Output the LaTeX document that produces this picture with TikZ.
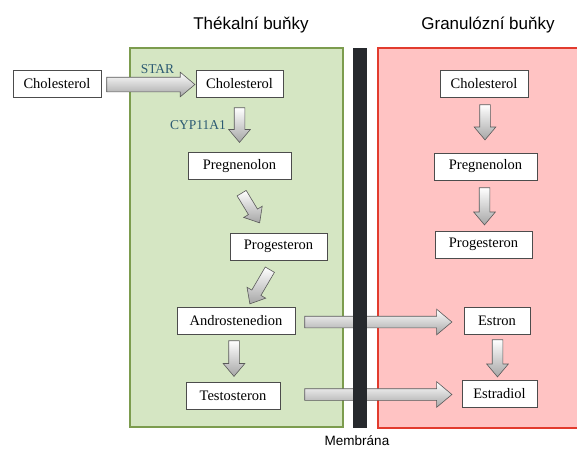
\documentclass[tikz,border=0pt]{standalone}
\usepackage{fontspec}
\setmainfont{Liberation Serif}
\setsansfont{Liberation Sans}
\usetikzlibrary{shapes.arrows, calc}

\definecolor{thekafill}{HTML}{D5E6C3}
\definecolor{thekadraw}{HTML}{7C9C4E}
\definecolor{granfill}{HTML}{FFC3C3}
\definecolor{grandraw}{HTML}{E23B2E}
\definecolor{membcol}{HTML}{26292D}
\definecolor{enzcol}{HTML}{2D5B73}

% thick shaded arrow from one point to another
\newcommand{\blockarrow}[3][]{%
  \path let \p1=#2, \p2=#3,
    \n1={atan2(\y2-\y1,\x2-\x1)}, \n2={veclen(\x2-\x1,\y2-\y1)} in
    node[fatarrow, #1, minimum height=\n2, rotate=\n1, anchor=tail] at (\p1) {};}

\begin{document}
\begin{tikzpicture}[
    x=1pt, y=-1pt,
    mol/.style={
        rectangle, draw=black!70, fill=white, line width=0.8pt,
        minimum height=27pt, inner sep=0pt,
        font=\fontsize{14.5}{16}\selectfont
    },
    title/.style={font=\sffamily\fontsize{17}{20}\selectfont},
    enzyme/.style={text=enzcol, font=\fontsize{13.5}{16}\selectfont},
    fatarrow/.style={
        single arrow, draw=black!65, line width=0.6pt,
        top color=white, bottom color=black!35,
        inner xsep=0pt, inner ysep=5pt,
        single arrow head extend=5.5pt, single arrow tip angle=80
    },
    widearrow/.style={inner ysep=5.5pt, single arrow head extend=7pt},
]
\useasboundingbox (0,0) rectangle (577,450);

% Bunky
\fill[thekafill] (130,48) rectangle (343,427);
\draw[thekadraw, line width=1.5pt] (130,48) rectangle (343,427);
\fill[granfill] (378,48) rectangle (577,428);
\draw[grandraw, line width=2pt] (577,48) -- (378,48) -- (378,428) -- (577,428);

\node[title] (titleT) at (251,25) {Thékalní buňky};
\node[title] (titleG) at (488,25) {Granulózní buňky};

% Molekuly - thekalni
\node[mol, minimum width=88pt]  (cholOut) at (57,83.5)    {Cholesterol};
\node[mol, minimum width=87pt]  (cholT)   at (239.5,83.5) {Cholesterol};
\node[mol, minimum width=103pt] (pregT)   at (239.5,166)  {Pregnenolon};
\node[mol, minimum width=97pt]  (progT)   at (278.5,246.5){Progesteron};
\node[mol, minimum width=118pt] (androT)  at (236,320.5)  {Androstenedion};
\node[mol, minimum width=94pt]  (testT)   at (233,396)    {Testosteron};

% Molekuly - granulozni
\node[mol, minimum width=88pt]  (cholG)     at (484,83.5)  {Cholesterol};
\node[mol, minimum width=103pt] (pregG)     at (485.5,166.5){Pregnenolon};
\node[mol, minimum width=97pt]  (progG)     at (483.5,244.5){Progesteron};
\node[mol, minimum width=66pt]  (estron)    at (497,320.5) {Estron};
\node[mol, minimum width=75pt]  (estradiol) at (499.5,393.5){Estradiol};

% Enzymy
\node[enzyme] (star) at (157.5,69) {STAR};
\node[enzyme] (cyp)  at (198,125)  {CYP11A1};

% Sipky - thekalni
\blockarrow[inner ysep=7pt, single arrow head extend=5pt]
    {($(cholOut.east)+(5,1)$)}{($(cholT.west)+(-1,1)$)}
\blockarrow{($(cholT.south)+(0,10)$)}{($(cholT.south |- pregT.north)+(0,-10)$)}
\blockarrow{($(pregT.south)+(2,13)$)}{($(progT.north)+(-19,-10)$)}
\blockarrow{($(progT.south)+(-8.5,9)$)}{($(androT.north)+(14,-3)$)}
\blockarrow{($(androT.south)+(-2,6)$)}{($(androT.south |- testT.north)+(-2,-6)$)}

% Sipky - granulozni
\blockarrow{($(cholG.south)+(1,7)$)}{($(cholG.south |- pregG.north)+(1,-13)$)}
\blockarrow{($(pregG.south)+(-1,7)$)}{($(pregG.south |- progG.north)+(-1,-6)$)}
\blockarrow{($(estron.south)+(0.5,5)$)}{($(estron.south |- estradiol.north)+(0.5,-3)$)}

% Sipky pres membranu
\blockarrow[widearrow]{($(androT.east)+(9,1.5)$)}{($(androT.east -| estron.west)+(-12,1.5)$)}
\blockarrow[widearrow]{($(testT.east)+(24,-1.5)$)}{($(testT.east -| estradiol.west)+(-10,-1.5)$)}

% Membrana
\fill[membcol] (353,48) rectangle (367,428);
\node[font=\sffamily\fontsize{13.5}{15}\selectfont] (memb) at (357,441) {Membrána};

\end{tikzpicture}
\end{document}
